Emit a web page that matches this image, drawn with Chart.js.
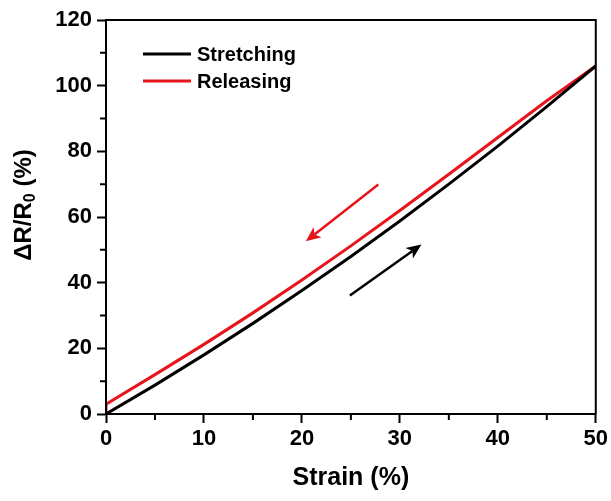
<!DOCTYPE html>
<html>
<head>
<meta charset="utf-8">
<script src="https://cdn.jsdelivr.net/npm/chart.js@4.4.1/dist/chart.umd.min.js"></script>
<style>
  html, body { margin: 0; padding: 0; background: #fff; }
  #c { display: block; }
</style>
</head>
<body>
<canvas id="c" width="611" height="501"></canvas>
<script>
// valores (strain en %, ΔR/R0 en %)
const stretchStrain = [0, 5, 10, 15, 20, 25, 30, 35, 40, 45, 50];
const stretchValues = [0, 8.8, 18, 27.6, 37.6, 48, 58.8, 70, 81.6, 93.6, 106];
const releaseStrain = [0, 0, 5, 10, 15, 20, 25, 30, 35, 40, 45, 50];
const releaseValues = [0, 3, 12, 21.2, 30.8, 40.8, 51.2, 62, 73, 84.2, 95.4, 106];

const seriesLabels = ['Stretching', 'Releasing'];
const seriesColors = ['#000000', '#e8141b'];

const xTicks = [0, 10, 20, 30, 40, 50];
const yTicks = [0, 20, 40, 60, 80, 100, 120];
const xMinor = [5, 15, 25, 35, 45];
const yMinor = [10, 30, 50, 70, 90, 110];

// flechas: [x0, y0, x1, y1] en unidades de datos (cola -> punta)
const arrowRed = [27.8, 69.9, 20.4, 52.6];
const arrowBlack = [24.9, 36.1, 32.2, 51.6];

const FONT = '"Liberation Sans", Arial, sans-serif';
const pts = (xs, ys) => xs.map((x, i) => ({ x, y: ys[i] }));

function arrow(ctx, xs, ys, a, color) {
  const x0 = xs.getPixelForValue(a[0]), y0 = ys.getPixelForValue(a[1]);
  const x1 = xs.getPixelForValue(a[2]), y1 = ys.getPixelForValue(a[3]);
  const ang = Math.atan2(y1 - y0, x1 - x0);
  const hl = 15, hw = 6.5;
  const bx = x1 - hl * Math.cos(ang), by = y1 - hl * Math.sin(ang);
  ctx.save();
  ctx.strokeStyle = color; ctx.fillStyle = color; ctx.lineWidth = 2.5;
  ctx.beginPath(); ctx.moveTo(x0, y0); ctx.lineTo(bx + 4 * Math.cos(ang), by + 4 * Math.sin(ang)); ctx.stroke();
  ctx.beginPath();
  ctx.moveTo(x1, y1);
  ctx.lineTo(bx + hw * Math.sin(ang), by - hw * Math.cos(ang));
  ctx.lineTo(bx + 4 * Math.cos(ang), by + 4 * Math.sin(ang));
  ctx.lineTo(bx - hw * Math.sin(ang), by + hw * Math.cos(ang));
  ctx.closePath(); ctx.fill();
  ctx.restore();
}

const decor = {
  id: 'decor',
  afterDraw(chart) {
    const { ctx, chartArea: a, scales: { x, y } } = chart;
    ctx.save();
    // marco
    ctx.strokeStyle = '#000'; ctx.lineWidth = 2;
    ctx.strokeRect(a.left, a.top, a.right - a.left, a.bottom - a.top);
    // ticks menores
    ctx.beginPath();
    xMinor.forEach(v => { const p = x.getPixelForValue(v); ctx.moveTo(p, a.bottom); ctx.lineTo(p, a.bottom + 6); });
    yMinor.forEach(v => { const p = y.getPixelForValue(v); ctx.moveTo(a.left, p); ctx.lineTo(a.left - 6, p); });
    ctx.stroke();

    // leyenda
    ctx.font = 'bold 20px ' + FONT;
    ctx.textBaseline = 'middle'; ctx.textAlign = 'left'; ctx.fillStyle = '#000';
    seriesLabels.forEach((lab, i) => {
      const ly = 54 + i * 27;
      ctx.strokeStyle = seriesColors[i]; ctx.lineWidth = 3;
      ctx.beginPath(); ctx.moveTo(143, ly); ctx.lineTo(191, ly); ctx.stroke();
      ctx.fillText(lab, 197, ly + 1);
    });

    // flechas
    arrow(ctx, x, y, arrowRed, seriesColors[1]);
    arrow(ctx, x, y, arrowBlack, seriesColors[0]);

    // título eje x
    ctx.font = 'bold 25px ' + FONT;
    ctx.textAlign = 'center';
    ctx.fillText('Strain (%)', (a.left + a.right) / 2, 478);

    // título eje y con subíndice
    ctx.translate(24, 205);
    ctx.rotate(-Math.PI / 2);
    const big = 'bold 24px ' + FONT, small = 'bold 16px ' + FONT;
    ctx.font = big; const w1 = ctx.measureText('ΔR/R').width;
    ctx.font = small; const w2 = ctx.measureText('0').width;
    ctx.font = big; const w3 = ctx.measureText(' (%)').width;
    let sx = -(w1 + w2 + w3) / 2;
    ctx.textAlign = 'left';
    ctx.fillText('ΔR/R', sx, 0); sx += w1;
    ctx.font = small; ctx.fillText('0', sx, 7); sx += w2;
    ctx.font = big; ctx.fillText(' (%)', sx, 0);
    ctx.restore();
  }
};

new Chart(document.getElementById('c'), {
  type: 'line',
  data: {
    datasets: [
      { label: seriesLabels[0], data: pts(stretchStrain, stretchValues), borderColor: seriesColors[0], borderWidth: 3, pointRadius: 0, tension: 0, fill: false },
      { label: seriesLabels[1], data: pts(releaseStrain, releaseValues), borderColor: seriesColors[1], borderWidth: 3, pointRadius: 0, tension: 0, fill: false },
    ],
  },
  options: {
    responsive: false,
    animation: false,
    layout: { padding: { left: 0, top: 20, right: 14, bottom: 0 } },
    plugins: { legend: { display: false }, tooltip: { enabled: false } },
    scales: {
      x: {
        type: 'linear', min: 0, max: 50,
        afterFit: s => { s.height = 87; },
        afterBuildTicks: s => { s.ticks = xTicks.map(v => ({ value: v })); },
        ticks: { color: '#000', font: { family: FONT, size: 22, weight: 'bold' }, padding: 3, maxRotation: 0 },
        grid: { drawOnChartArea: false, tickLength: 9, tickWidth: 2, tickColor: '#000' },
        border: { color: '#000', width: 2 },
      },
      y: {
        type: 'linear', min: 0, max: 120,
        afterFit: s => { s.width = 106; },
        afterBuildTicks: s => { s.ticks = yTicks.map(v => ({ value: v })); },
        ticks: { color: '#000', font: { family: FONT, size: 22, weight: 'bold' }, padding: 5 },
        grid: { drawOnChartArea: false, tickLength: 9, tickWidth: 2, tickColor: '#000' },
        border: { color: '#000', width: 2 },
      },
    },
  },
  plugins: [decor],
});
</script>
</body>
</html>
